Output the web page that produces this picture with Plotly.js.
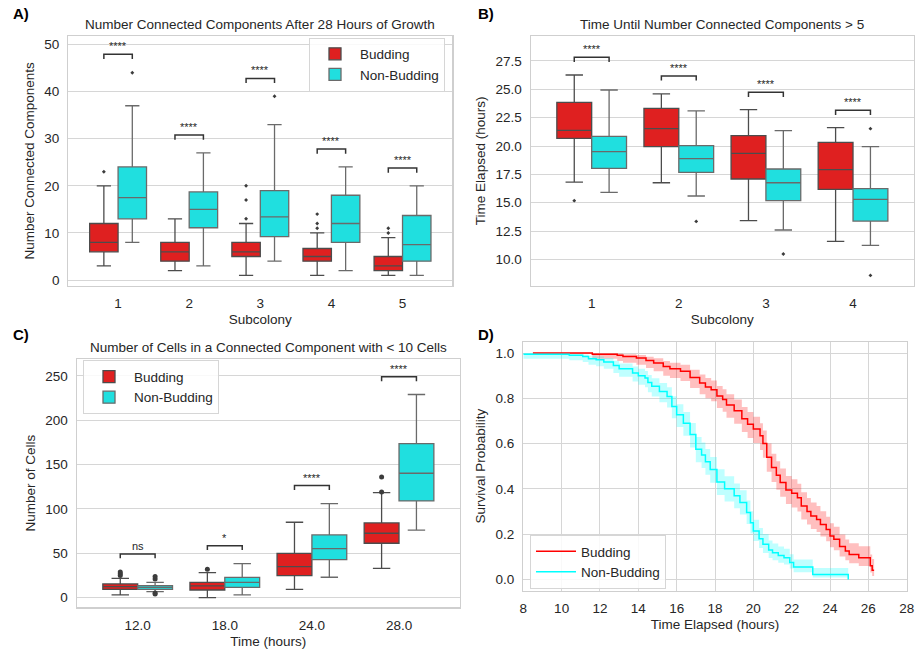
<!DOCTYPE html>
<html>
<head>
<meta charset="utf-8">
<script src="https://cdn.plot.ly/plotly-3.0.1.min.js"></script>
<style>html,body{margin:0;padding:0;background:#fff;}#chart{width:915px;height:650px;}</style>
</head>
<body>
<div id="chart"></div>
<script>
// ---------- Panel A data ----------
const catsA = ['1','2','3','4','5'];
const budA_low = [3, 2, 1, 1, 1];
const budA_q1 = [6, 4, 5, 4, 2];
const budA_med = [8, 6, 6, 5, 3];
const budA_q3 = [12, 8, 8, 6.7, 5];
const budA_high = [20, 13, 12, 10, 9];
const budA_outCat = [1, 3, 3, 3, 4, 4, 4, 5, 5];
const budA_outVal = [23, 13, 17, 20, 11, 12, 14, 10, 11];
const nbA_low = [8, 3, 4, 2, 1];
const nbA_q1 = [13, 11.1, 9.2, 8, 4];
const nbA_med = [17.5, 15, 13.4, 12, 7.5];
const nbA_q3 = [24, 18.7, 19, 18, 13.7];
const nbA_high = [37, 27, 33, 24, 20];
const nbA_outCat = [1, 3];
const nbA_outVal = [44, 39];
const bracketA = [47.9, 30.8, 42.8, 27.8, 23.8];
const sigA = ['****', '****', '****', '****', '****'];

// ---------- Panel B data ----------
const catsB = ['1','2','3','4'];
const budB_low = [16.82, 16.76, 13.41, 11.59];
const budB_q1 = [20.68, 19.94, 17.09, 16.18];
const budB_med = [21.38, 21.53, 19.35, 17.91];
const budB_q3 = [23.85, 23.32, 20.91, 20.32];
const budB_high = [26.26, 24.59, 23.21, 21.62];
const budB_outCat = [1];
const budB_outVal = [15.18];
const nbB_low = [15.91, 15.59, 12.59, 11.24];
const nbB_q1 = [18.03, 17.68, 15.18, 13.38];
const nbB_med = [19.5, 18.88, 16.76, 15.29];
const nbB_q3 = [20.85, 20.03, 17.97, 16.24];
const nbB_high = [24.94, 23.09, 21.35, 19.94];
const nbB_outCat = [2, 3, 4, 4];
const nbB_outVal = [13.35, 10.47, 21.53, 8.59];
const bracketB = [27.82, 26.18, 24.74, 23.15];
const sigB = ['****', '****', '****', '****'];

// ---------- Panel C data ----------
const catsC = ['12.0','18.0','24.0','28.0'];
const budC_low = [3, 0, 9.4, 33];
const budC_q1 = [9.4, 8.6, 24.8, 61.3];
const budC_med = [12.4, 13.2, 35, 72.6];
const budC_q3 = [15.4, 17.3, 50, 84.2];
const budC_high = [21.8, 28.2, 85, 118.4];
const budC_outCat = [1, 1, 1, 2, 4, 4];
const budC_outVal = [25, 27, 29, 32, 119, 136];
const nbC_low = [6.8, 3, 23, 76];
const nbC_q1 = [9.4, 11.6, 42.9, 109];
const nbC_med = [11.6, 17.3, 55.3, 140.2];
const nbC_q3 = [13.5, 22.9, 70.7, 173.7];
const nbC_high = [17.3, 38.3, 106, 229];
const nbC_outCat = [1, 1, 1, 1];
const nbC_outVal = [21, 23.7, 4.1, 5.3];
const bracketC = [49.2, 58.6, 126.3, 248.9];
const sigC = ['ns', '*', '****', '****'];

// ---------- Panel D data (Kaplan-Meier) ----------
const budD_t = [8.5, 11.6, 12.9, 13.2, 13.9, 14.4, 14.8, 15.3, 15.65, 16.2, 16.7, 17.2, 17.5, 17.8, 18.1, 18.4, 18.6, 19.0, 19.4, 19.7, 20.0, 20.35, 20.5, 20.7, 20.95, 21.2, 21.4, 21.7, 22.0, 22.3, 22.5, 22.8, 23.0, 23.3, 23.5, 23.8, 24.0, 24.2, 24.5, 24.8, 25.0, 25.5, 26.1, 26.2, 26.3];
const budD_s = [1.0, 0.995, 0.99, 0.985, 0.978, 0.967, 0.956, 0.94, 0.93, 0.919, 0.892, 0.867, 0.85, 0.838, 0.81, 0.795, 0.77, 0.745, 0.71, 0.685, 0.664, 0.634, 0.60, 0.54, 0.494, 0.46, 0.428, 0.395, 0.38, 0.361, 0.324, 0.30, 0.28, 0.265, 0.243, 0.22, 0.192, 0.177, 0.145, 0.125, 0.11, 0.096, 0.06, 0.04, 0.04];
const budD_lo = [1.0, 0.975, 0.965, 0.957, 0.948, 0.934, 0.92, 0.90, 0.89, 0.876, 0.846, 0.818, 0.80, 0.787, 0.757, 0.741, 0.714, 0.688, 0.651, 0.625, 0.603, 0.572, 0.537, 0.476, 0.43, 0.396, 0.365, 0.333, 0.318, 0.30, 0.265, 0.242, 0.223, 0.209, 0.189, 0.168, 0.142, 0.129, 0.101, 0.084, 0.071, 0.059, 0.03, 0.015, 0.015];
const budD_hi = [1.0, 0.999, 0.998, 0.995, 0.991, 0.984, 0.977, 0.965, 0.957, 0.948, 0.926, 0.905, 0.89, 0.879, 0.854, 0.84, 0.818, 0.795, 0.762, 0.739, 0.719, 0.69, 0.658, 0.60, 0.555, 0.522, 0.49, 0.457, 0.442, 0.423, 0.385, 0.36, 0.34, 0.324, 0.301, 0.277, 0.248, 0.232, 0.198, 0.176, 0.16, 0.146, 0.11, 0.09, 0.09];
const nbD_t = [8.0, 10.4, 11.1, 11.4, 11.8, 12.2, 12.7, 13.0, 13.7, 14.0, 14.35, 14.5, 14.7, 15.1, 15.5, 15.75, 16.0, 16.35, 16.7, 17.0, 17.3, 17.5, 17.75, 18.1, 18.5, 19.0, 19.3, 19.65, 19.85, 20.0, 20.3, 20.5, 20.8, 21.0, 21.3, 21.6, 21.9, 22.1, 23.1, 24.95];
const nbD_s = [0.995, 0.99, 0.985, 0.975, 0.97, 0.96, 0.945, 0.93, 0.912, 0.90, 0.89, 0.87, 0.853, 0.83, 0.808, 0.764, 0.727, 0.69, 0.64, 0.575, 0.55, 0.52, 0.485, 0.43, 0.40, 0.369, 0.34, 0.295, 0.25, 0.214, 0.18, 0.155, 0.13, 0.118, 0.105, 0.096, 0.075, 0.055, 0.022, 0.0];
const nbD_lo = [0.975, 0.968, 0.96, 0.948, 0.942, 0.93, 0.912, 0.895, 0.874, 0.86, 0.849, 0.827, 0.808, 0.783, 0.759, 0.712, 0.673, 0.635, 0.583, 0.517, 0.492, 0.462, 0.427, 0.373, 0.344, 0.314, 0.287, 0.245, 0.203, 0.17, 0.139, 0.117, 0.095, 0.085, 0.074, 0.066, 0.048, 0.032, 0.008, 0.0];
const nbD_hi = [1.0, 0.997, 0.994, 0.988, 0.985, 0.978, 0.966, 0.954, 0.94, 0.93, 0.921, 0.903, 0.889, 0.868, 0.849, 0.809, 0.774, 0.739, 0.691, 0.629, 0.605, 0.576, 0.541, 0.487, 0.456, 0.424, 0.394, 0.348, 0.301, 0.263, 0.227, 0.2, 0.172, 0.159, 0.145, 0.135, 0.111, 0.088, 0.05, 0.0];

// ---------- styling ----------
const FONT = 'Liberation Sans, Arial, Helvetica, sans-serif';
const TXT = '#262626';
const RED_BOX = '#df2020', CYAN_BOX = '#20dfdf';
const RED_EDGE = '#4c4c4c', CYAN_EDGE = '#6a6a6a';
const OFF = 0.2, BOXW = 0.4;

const traces = [];
function addBoxes(cats, low, q1, med, q3, high, color, edge, off, xa, ya, name, legend, showlegend) {
  traces.push({
    type: 'box', orientation: 'v', name: name, legend: legend, showlegend: showlegend,
    x: cats.map((c, i) => i + 1 + off),
    q1: q1, median: med, q3: q3, lowerfence: low, upperfence: high,
    boxpoints: false, width: BOXW, whiskerwidth: 0.5,
    fillcolor: color, line: {color: edge, width: 1.3},
    xaxis: xa, yaxis: ya, hoverinfo: 'skip'
  });
}
function addOutliers(cat, val, off, xa, ya, symbol, size) {
  traces.push({
    type: 'scatter', mode: 'markers', showlegend: false,
    x: cat.map(c => c + off), y: val,
    marker: {symbol: symbol, size: size, color: '#3c3c3c'},
    xaxis: xa, yaxis: ya, hoverinfo: 'skip'
  });
}

// Panel A
addBoxes(catsA, budA_low, budA_q1, budA_med, budA_q3, budA_high, RED_BOX, RED_EDGE, -OFF, 'x', 'y', 'Budding', 'legend', true);
addBoxes(catsA, nbA_low, nbA_q1, nbA_med, nbA_q3, nbA_high, CYAN_BOX, CYAN_EDGE, OFF, 'x', 'y', 'Non-Budding', 'legend', true);
addOutliers(budA_outCat, budA_outVal, -OFF, 'x', 'y', 'diamond', 3);
addOutliers(nbA_outCat, nbA_outVal, OFF, 'x', 'y', 'diamond', 3);
// Panel B
addBoxes(catsB, budB_low, budB_q1, budB_med, budB_q3, budB_high, RED_BOX, RED_EDGE, -OFF, 'x2', 'y2', 'Budding', 'legend', false);
addBoxes(catsB, nbB_low, nbB_q1, nbB_med, nbB_q3, nbB_high, CYAN_BOX, CYAN_EDGE, OFF, 'x2', 'y2', 'Non-Budding', 'legend', false);
addOutliers(budB_outCat, budB_outVal, -OFF, 'x2', 'y2', 'diamond', 3);
addOutliers(nbB_outCat, nbB_outVal, OFF, 'x2', 'y2', 'diamond', 3);
// Panel C
addBoxes(catsC, budC_low, budC_q1, budC_med, budC_q3, budC_high, RED_BOX, RED_EDGE, -OFF, 'x3', 'y3', 'Budding', 'legend2', true);
addBoxes(catsC, nbC_low, nbC_q1, nbC_med, nbC_q3, nbC_high, CYAN_BOX, CYAN_EDGE, OFF, 'x3', 'y3', 'Non-Budding', 'legend2', true);
addOutliers(budC_outCat, budC_outVal, -OFF, 'x3', 'y3', 'circle', 5);
addOutliers(nbC_outCat, nbC_outVal, OFF, 'x3', 'y3', 'circle', 5);

// Panel D
function band(t, lo, hi, fill) {
  traces.push({type: 'scatter', mode: 'lines', x: t, y: lo, line: {width: 0, shape: 'hv'}, showlegend: false, xaxis: 'x4', yaxis: 'y4', hoverinfo: 'skip'});
  traces.push({type: 'scatter', mode: 'lines', x: t, y: hi, line: {width: 0, shape: 'hv'}, fill: 'tonexty', fillcolor: fill, showlegend: false, xaxis: 'x4', yaxis: 'y4', hoverinfo: 'skip'});
}
band(budD_t, budD_lo, budD_hi, 'rgba(255,0,0,0.25)');
band(nbD_t, nbD_lo, nbD_hi, 'rgba(0,255,255,0.25)');
traces.push({type: 'scatter', mode: 'lines', name: 'Budding', legend: 'legend3', x: budD_t, y: budD_s, line: {color: '#ff0000', width: 1.5, shape: 'hv'}, xaxis: 'x4', yaxis: 'y4'});
traces.push({type: 'scatter', mode: 'lines', name: 'Non-Budding', legend: 'legend3', x: nbD_t, y: nbD_s, line: {color: '#00ffff', width: 1.5, shape: 'hv'}, xaxis: 'x4', yaxis: 'y4'});

// ---------- brackets & significance ----------
const shapes = [];
const annotations = [];
function addBrackets(tops, sigs, drop, xref, yref) {
  tops.forEach((top, i) => {
    const x0 = i + 1 - OFF, x1 = i + 1 + OFF;
    shapes.push({type: 'path', xref: xref, yref: yref,
      path: `M ${x0},${top - drop} L ${x0},${top} L ${x1},${top} L ${x1},${top - drop}`,
      line: {color: '#333333', width: 1.5}});
    annotations.push({xref: xref, yref: yref, x: i + 1, y: top, text: sigs[i], showarrow: false,
      yanchor: 'bottom', yshift: 0, font: {family: FONT, size: 11, color: TXT}});
  });
}
addBrackets(bracketA, sigA, 1.0, 'x', 'y');
addBrackets(bracketB, sigB, 0.41, 'x2', 'y2');
addBrackets(bracketC, sigC, 4.9, 'x3', 'y3');

// titles & panel letters
function paperText(xpx, ypx, text, size, bold, xanchor) {
  annotations.push({xref: 'paper', yref: 'paper', x: xpx / 915, y: 1 - ypx / 650, text: bold ? '<b>' + text + '</b>' : text,
    showarrow: false, xanchor: xanchor, yanchor: 'middle', font: {family: FONT, size: size, color: bold ? '#000' : TXT}});
}
paperText(260.3, 25, 'Number Connected Components After 28 Hours of Growth', 13.5, false, 'center');
paperText(722.3, 25, 'Time Until Number Connected Components > 5', 13.5, false, 'center');
paperText(268.3, 347, 'Number of Cells in a Connected Component with < 10 Cells', 13.5, false, 'center');
paperText(11, 14, 'A)', 15, true, 'left');
paperText(476, 14, 'B)', 15, true, 'left');
paperText(11, 334, 'C)', 15, true, 'left');
paperText(476, 334, 'D)', 15, true, 'left');

// ---------- axes ----------
function ax(extra) {
  return Object.assign({
    showline: true, mirror: true, linecolor: '#cfcfcf', linewidth: 1.2,
    showgrid: true, gridcolor: '#d6d6d6', gridwidth: 1, zeroline: false,
    ticks: 'outside', ticklen: 5, tickcolor: 'rgba(0,0,0,0)',
    tickfont: {family: FONT, size: 13.5, color: TXT},
    fixedrange: true
  }, extra);
}
function ttl(text, standoff) {
  return {text: text, standoff: standoff, font: {family: FONT, size: 13.5, color: TXT}};
}
const dom = (a, b, W) => [a / W, b / W];
const ydom = (top, bot) => [1 - bot / 650, 1 - top / 650];
function leg(xpx, ycpx, xanchor) {
  return {x: xpx / 915, y: 1 - ycpx / 650, xanchor: xanchor, yanchor: 'middle', traceorder: 'normal',
    bgcolor: 'rgba(255,255,255,0.85)', bordercolor: '#d6d6d6', borderwidth: 1,
    font: {family: FONT, size: 13.5, color: TXT}, itemwidth: 40, tracegroupgap: 0};
}

const layout = {
  width: 915, height: 650, margin: {l: 0, r: 0, t: 0, b: 0},
  paper_bgcolor: '#ffffff', plot_bgcolor: '#ffffff',
  font: {family: FONT, color: TXT},
  boxmode: 'overlay',
  xaxis: ax({domain: dom(68.3, 452.3, 915), anchor: 'y', range: [0.3, 5.7], showgrid: false,
    tickmode: 'array', tickvals: catsA.map((c, i) => i + 1), ticktext: catsA, title: ttl('Subcolony', 4)}),
  yaxis: ax({domain: ydom(36, 285.7), anchor: 'x', range: [-1.2, 51.8], tickmode: 'array', tickvals: [0, 10, 20, 30, 40, 50],
    title: ttl('Number Connected Components', 6)}),
  xaxis2: ax({domain: dom(530.7, 914, 915), anchor: 'y2', range: [0.3, 4.7], showgrid: false,
    tickmode: 'array', tickvals: catsB.map((c, i) => i + 1), ticktext: catsB, title: ttl('Subcolony', 4)}),
  yaxis2: ax({domain: ydom(36, 285.7), anchor: 'x2', range: [7.68, 29.7], tickmode: 'array',
    tickvals: [10, 12.5, 15, 17.5, 20, 22.5, 25, 27.5], tickformat: '.1f', title: ttl('Time Elapsed (hours)', 6)}),
  xaxis3: ax({domain: dom(76.7, 460, 915), anchor: 'y3', range: [0.3, 4.7], showgrid: false,
    tickmode: 'array', tickvals: catsC.map((c, i) => i + 1), ticktext: catsC, title: ttl('Time (hours)', 4)}),
  yaxis3: ax({domain: ydom(359, 607.3), anchor: 'x3', range: [-10.9, 269], tickmode: 'array',
    tickvals: [0, 50, 100, 150, 200, 250], title: ttl('Number of Cells', 6)}),
  xaxis4: ax({domain: dom(523.3, 906.7, 915), anchor: 'y4', range: [8, 28], tickmode: 'array',
    tickvals: [8, 10, 12, 14, 16, 18, 20, 22, 24, 26, 28], title: ttl('Time Elapsed (hours)', 4)}),
  yaxis4: ax({domain: ydom(341.7, 590.7), anchor: 'x4', range: [-0.05, 1.05], tickmode: 'array',
    tickvals: [0, 0.2, 0.4, 0.6, 0.8, 1.0], tickformat: '.1f', title: ttl('Survival Probability', 6)}),
  legend: leg(445, 64.5, 'right'),
  legend2: leg(83, 387.3, 'left'),
  legend3: leg(530, 562, 'left'),
  shapes: shapes,
  annotations: annotations,
  hovermode: false
};

Plotly.newPlot('chart', traces, layout, {staticPlot: true, displayModeBar: false});
</script>
</body>
</html>
